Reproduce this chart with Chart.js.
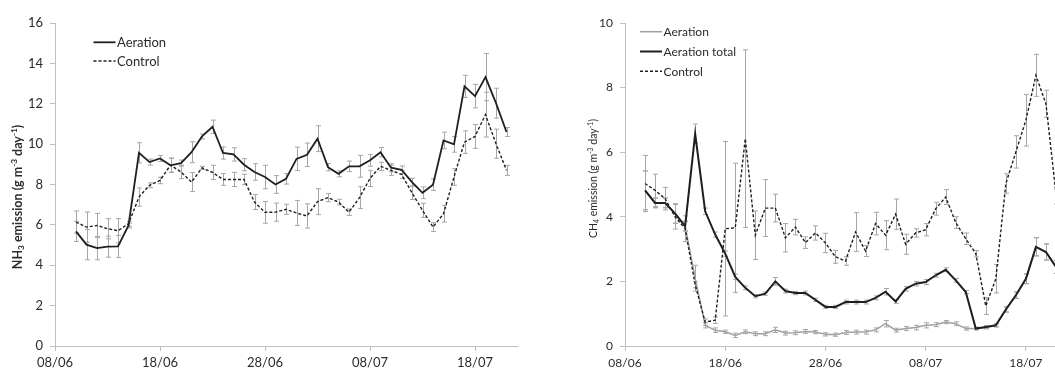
<!DOCTYPE html>
<html>
<head>
<meta charset="utf-8">
<script src="https://cdn.jsdelivr.net/npm/chart.js@4.4.0/dist/chart.umd.min.js"></script>
<style>
  html, body { margin: 0; padding: 0; background: #fff; overflow: hidden; }
  body { width: 1055px; height: 368px; position: relative; }
  canvas { position: absolute; top: 0; }
  #nh3 { left: 0; }
  #ch4 { left: 530px; }
</style>
</head>
<body>
<canvas id="nh3" width="530" height="368"></canvas>
<canvas id="ch4" width="560" height="368"></canvas>
<script>
// sampling dates (dd/mm), one per day
const dates = [
  '10/06','11/06','12/06','13/06','14/06','15/06','16/06',
  '17/06','18/06','19/06','20/06','21/06','22/06','23/06',
  '24/06','25/06','26/06','27/06','28/06','29/06','30/06',
  '01/07','02/07','03/07','04/07','05/07','06/07','07/07',
  '08/07','09/07','10/07','11/07','12/07','13/07','14/07',
  '15/07','16/07','17/07','18/07','19/07','20/07','21/07'
];
const tickLabels = ['08/06','18/06','28/06','08/07','18/07'];

// NH3 emission (g m-3 day-1)
const aerationNH3 = [
  5.68, 5.02, 4.85, 4.92, 4.93, 5.97, 9.57,
  9.11, 9.29, 8.95, 9.06, 9.6, 10.38, 10.86,
  9.56, 9.49, 8.98, 8.62, 8.37, 8.0, 8.28,
  9.27, 9.47, 10.27, 8.86, 8.53, 8.9, 8.9,
  9.2, 9.6, 8.83, 8.73, 8.12, 7.59, 7.99,
  10.18, 9.99, 12.86, 12.38, 13.32, 12.03, 10.6
];
const controlNH3 = [
  6.14, 5.89, 5.97, 5.81, 5.71, 6.05, 7.38,
  7.96, 8.2, 8.96, 8.62, 8.12, 8.82, 8.6,
  8.25, 8.25, 8.25, 7.13, 6.62, 6.63, 6.77,
  6.59, 6.44, 7.15, 7.35, 7.13, 6.63, 7.35,
  8.3, 8.9, 8.7, 8.5, 7.59, 6.72, 5.89,
  6.55, 8.37, 10.1, 10.38, 11.46, 10.02, 8.7
];
const errAerNH3 = [
  0.5, 0.75, 0.58, 0.52, 0.55, 0.12, 0.5,
  0.15, 0.15, 0.35, 0.15, 0.52, 0.12, 0.33,
  0.3, 0.33, 0.3, 0.41, 0.58, 0.44, 0.26,
  0.58, 0.58, 0.64, 0.18, 0.15, 0.26, 0.54,
  0.29, 0.23, 0.2, 0.19, 0.19, 0.29, 0.29,
  0.41, 0.39, 0.55, 0.58, 1.17, 0.74, 0.22
];
const errCtrlNH3 = [
  0.55, 0.75, 0.6, 0.5, 0.6, 0.12, 0.45,
  0.12, 0.16, 0.35, 0.33, 0.47, 0.08, 0.35,
  0.29, 0.35, 0.26, 0.37, 0.54, 0.45, 0.25,
  0.62, 0.6, 0.64, 0.2, 0.14, 0.16, 0.54,
  0.4, 0.2, 0.25, 0.2, 0.33, 0.35, 0.22,
  0.41, 0.41, 0.56, 0.59, 1.11, 0.72, 0.25
];

// CH4 emission (g m-3 day-1)
const aerationCH4 = [
  4.82, 4.43, 4.43, 4.1, 3.71, 2.1, 0.64,
  0.49, 0.44, 0.33, 0.44, 0.38, 0.38, 0.5,
  0.4, 0.41, 0.45, 0.43, 0.36, 0.35, 0.42,
  0.43, 0.43, 0.5, 0.69, 0.49, 0.54, 0.57,
  0.64, 0.66, 0.74, 0.69, 0.54, 0.54, 0.57,
  0.64, 1.13, 1.57, 2.08, 3.07, 2.91, 2.45
];
const totalCH4 = [
  4.82, 4.43, 4.43, 4.1, 3.71, 6.57, 4.17,
  3.45, 2.86, 2.14, 1.8, 1.54, 1.62, 2.0,
  1.7, 1.64, 1.64, 1.43, 1.21, 1.21, 1.36,
  1.36, 1.36, 1.49, 1.68, 1.38, 1.77, 1.93,
  1.98, 2.19, 2.36, 2.03, 1.67, 0.54, 0.59,
  0.64, 1.13, 1.57, 2.08, 3.07, 2.91, 2.45
];
const controlCH4 = [
  5.03, 4.82, 4.56, 4.0, 3.63, 1.9, 0.74,
  0.8, 3.63, 3.66, 6.42, 3.43, 4.27, 4.27,
  3.35, 3.68, 3.2, 3.5, 3.19, 2.76, 2.63,
  3.53, 2.94, 3.79, 3.43, 4.08, 3.15, 3.5,
  3.6, 4.25, 4.61, 3.82, 3.32, 2.86, 1.24,
  2.08, 5.03, 6.01, 6.99, 8.38, 7.5, 4.7
];
const errAerCH4 = [
  0.6, 0.15, 0.15, 0.3, 0.15, 0.4, 0.08,
  0.07, 0.05, 0.07, 0.06, 0.06, 0.06, 0.08,
  0.06, 0.06, 0.06, 0.05, 0.05, 0.05, 0.06,
  0.06, 0.06, 0.06, 0.1, 0.06, 0.06, 0.07,
  0.08, 0.06, 0.05, 0.06, 0.05, 0.04, 0.04,
  0.05, 0.08, 0.1, 0.15, 0.28, 0.25, 0.2
];
const errTotalCH4 = [
  0.6, 0.15, 0.15, 0.3, 0.15, 0.3, 0.1,
  0.08, 0.08, 0.08, 0.06, 0.05, 0.05, 0.12,
  0.06, 0.05, 0.06, 0.05, 0.05, 0.05, 0.06,
  0.06, 0.06, 0.06, 0.1, 0.06, 0.07, 0.07,
  0.08, 0.06, 0.06, 0.06, 0.05, 0.04, 0.04,
  0.05, 0.08, 0.1, 0.15, 0.28, 0.25, 0.2
];
const errCtrlCH4 = [
  0.87, 0.5, 0.35, 0.38, 0.4, 0.1, 0.1,
  0.1, 2.7, 2.0, 2.75, 0.75, 0.88, 0.43,
  0.44, 0.24, 0.18, 0.22, 0.3, 0.2, 0.13,
  0.6, 0.17, 0.35, 0.45, 0.47, 0.31, 0.13,
  0.19, 0.2, 0.23, 0.18, 0.18, 0.1, 0.26,
  0.44, 0.3, 0.5, 0.8, 0.65, 0.42, 0.3
];

const FONT = 'Lato, "Open Sans", sans-serif';
const TEXT = '#2b2b2b';
const AXIS = '#bfbfbf';

// days since 08/06
function dayOf(s) {
  const [d, m] = s.split('/').map(Number);
  return d + (m === 7 ? 30 : 0) - 8;
}
function points(values) {
  return values.map((v, i) => ({ x: dayOf(dates[i]), y: v }));
}

// vertical error bars with caps, from dataset.errors
const errorBars = {
  id: 'errorBars',
  beforeDatasetsDraw(chart) {
    const { ctx, scales: { y } } = chart;
    ctx.save();
    ctx.strokeStyle = '#a6a6a6';
    ctx.lineWidth = 1;
    chart.data.datasets.forEach((ds, di) => {
      if (!ds.errors) return;
      const meta = chart.getDatasetMeta(di);
      meta.data.forEach((pt, i) => {
        const v = ds.data[i].y, e = ds.errors[i];
        const x = Math.round(pt.x) + 0.5;
        const top = y.getPixelForValue(v + e), bot = y.getPixelForValue(v - e);
        ctx.beginPath();
        ctx.moveTo(x, top); ctx.lineTo(x, bot);
        ctx.moveTo(x - 2.5, top); ctx.lineTo(x + 2.5, top);
        ctx.moveTo(x - 2.5, bot); ctx.lineTo(x + 2.5, bot);
        ctx.stroke();
      });
    });
    ctx.restore();
  }
};

// legend drawn inside the plot, line sample + label
const lineLegend = {
  id: 'lineLegend',
  afterDraw(chart, args, opts) {
    const { ctx } = chart;
    ctx.save();
    ctx.font = opts.size + 'px ' + FONT;
    ctx.textBaseline = 'middle';
    chart.data.datasets.forEach((ds, i) => {
      const y = opts.y + i * opts.gap;
      ctx.beginPath();
      ctx.setLineDash(ds.borderDash || []);
      ctx.strokeStyle = ds.borderColor;
      ctx.lineWidth = ds.borderWidth;
      ctx.moveTo(opts.x, y); ctx.lineTo(opts.x + 22, y);
      ctx.stroke();
      ctx.setLineDash([]);
      ctx.fillStyle = TEXT;
      ctx.fillText(ds.label, opts.x + 23.5, y + 0.5);
    });
    ctx.restore();
  }
};

// rotated y title with sub/superscripts
const yTitle = {
  id: 'yTitle',
  afterDraw(chart, args, opts) {
    const { ctx } = chart;
    const size = opts.size, small = size * 0.66;
    const fontOf = m => opts.weight + ' ' + (m ? small : size) + 'px ' + FONT;
    ctx.save();
    ctx.translate(opts.x, opts.y);
    ctx.rotate(-Math.PI / 2);
    let total = 0;
    opts.parts.forEach(([t, m]) => { ctx.font = fontOf(m); total += ctx.measureText(t).width; });
    let x = -total / 2;
    ctx.fillStyle = TEXT;
    ctx.textBaseline = 'alphabetic';
    opts.parts.forEach(([t, m]) => {
      ctx.font = fontOf(m);
      const dy = m === 1 ? size * 0.22 : m === 2 ? -size * 0.36 : 0;
      ctx.fillText(t, x, size * 0.36 + dy);
      x += ctx.measureText(t).width;
    });
    ctx.restore();
  }
};

function xScale(tickSize, pad) {
  return {
    type: 'linear', min: 0, max: 44,
    afterBuildTicks: s => { s.ticks = tickLabels.map(t => ({ value: dayOf(t) })); },
    afterFit: s => { s.height = 22; },
    grid: { drawOnChartArea: false, drawTicks: true, tickLength: 5, color: AXIS },
    border: { color: AXIS },
    ticks: { font: { size: tickSize, family: FONT }, color: TEXT, padding: pad, maxRotation: 0,
      callback: (v, i) => tickLabels[i] }
  };
}
function yScale(max, width, tickSize) {
  return {
    min: 0, max: max,
    afterFit: s => { s.width = width; },
    grid: { drawOnChartArea: false, drawTicks: true, tickLength: 5, color: AXIS },
    border: { color: AXIS },
    ticks: { stepSize: 2, font: { size: tickSize, family: FONT }, color: TEXT, padding: 7 }
  };
}
function line(label, values, errors, color, width, dash, order) {
  return {
    label: label, data: points(values), errors: errors, order: order,
    borderColor: color, borderWidth: width, borderDash: dash,
    pointRadius: 0, tension: 0, fill: false
  };
}

new Chart(document.getElementById('nh3'), {
  type: 'line',
  data: {
    datasets: [
      line('Aeration', aerationNH3, errAerNH3, '#1f1f1f', 1.8, [], 0),
      line('Control', controlNH3, errCtrlNH3, '#1f1f1f', 1.4, [3, 2], 1)
    ]
  },
  options: {
    responsive: false, animation: false,
    layout: { padding: { top: 23, left: 0, right: 13, bottom: 0 } },
    scales: { x: xScale(13, 4), y: yScale(16, 55, 13) },
    plugins: {
      legend: { display: false }, tooltip: { enabled: false },
      lineLegend: { x: 93.5, y: 42.3, gap: 18.7, size: 13 },
      yTitle: { x: 17, y: 197, size: 12.5, weight: 'bold',
        parts: [['NH', 0], ['3', 1], [' emission (g m', 0], ['-3', 2], [' day', 0], ['-1', 2], [')', 0]] }
    }
  },
  plugins: [errorBars, lineLegend, yTitle]
});

new Chart(document.getElementById('ch4'), {
  type: 'line',
  data: {
    datasets: [
      line('Aeration', aerationCH4, errAerCH4, '#a0a0a0', 1.5, [], 2),
      line('Aeration total', totalCH4, errTotalCH4, '#1f1f1f', 2, [], 0),
      line('Control', controlCH4, errCtrlCH4, '#1f1f1f', 1.4, [3, 2], 1)
    ]
  },
  options: {
    responsive: false, animation: false,
    layout: { padding: { top: 23, left: 0, right: 24, bottom: 0 } },
    scales: { x: xScale(12, 5), y: yScale(10, 95, 12) },
    plugins: {
      legend: { display: false }, tooltip: { enabled: false },
      lineLegend: { x: 110, y: 31.7, gap: 19.8, size: 12 },
      yTitle: { x: 63.3, y: 178.5, size: 10.5, weight: 'normal',
        parts: [['CH', 0], ['4', 1], [' emission (g m', 0], ['-3', 2], [' day', 0], ['-1', 2], [')', 0]] }
    }
  },
  plugins: [errorBars, lineLegend, yTitle]
});
</script>
</body>
</html>
